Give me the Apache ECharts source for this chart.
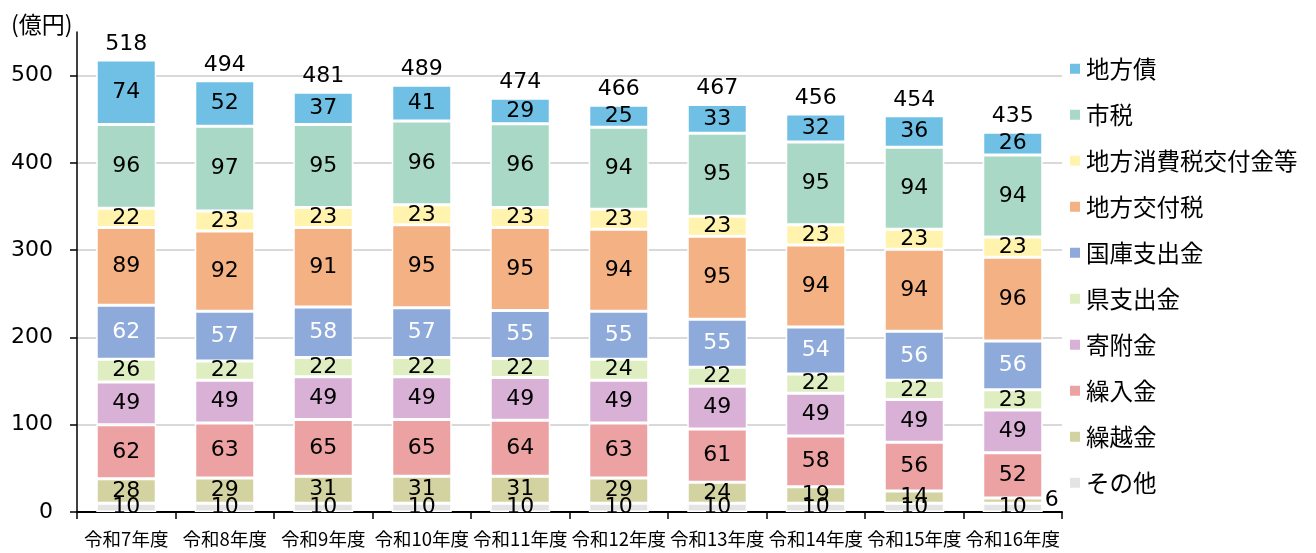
<!DOCTYPE html>
<html>
<head>
<meta charset="utf-8">
<script src="https://cdn.jsdelivr.net/npm/echarts@6/dist/echarts.min.js"></script>
<style>
  html, body { margin: 0; padding: 0; background: #fff; }
  #chart { width: 1316px; height: 553px; }
</style>
</head>
<body>
<div id="chart"></div>
<script>
const categories = ['令和7年度', '令和8年度', '令和9年度', '令和10年度', '令和11年度',
    '令和12年度', '令和13年度', '令和14年度', '令和15年度', '令和16年度'];

// bottom to top
const sonota = [10, 10, 10, 10, 10, 10, 10, 10, 10, 10];
const kurikoshi = [28, 29, 31, 31, 31, 29, 24, 19, 14, 6];
const kuriire = [62, 63, 65, 65, 64, 63, 61, 58, 56, 52];
const kifu = [49, 49, 49, 49, 49, 49, 49, 49, 49, 49];
const kenShishutsu = [26, 22, 22, 22, 22, 24, 22, 22, 22, 23];
const kokkoShishutsu = [62, 57, 58, 57, 55, 55, 55, 54, 56, 56];
const chihoKofuzei = [89, 92, 91, 95, 95, 94, 95, 94, 94, 96];
const shohizeiKofukin = [22, 23, 23, 23, 23, 23, 23, 23, 23, 23];
const shizei = [96, 97, 95, 96, 96, 94, 95, 95, 94, 94];
const chihosai = [74, 52, 37, 41, 29, 25, 33, 32, 36, 26];
const totals = [518, 494, 481, 489, 474, 466, 467, 456, 454, 435];

const yTicks = [0, 100, 200, 300, 400, 500];

const FONT = '"Noto Sans CJK JP", "Noto Sans", sans-serif';
const NUM_FONT = '"DejaVu Sans", "Noto Sans CJK JP", sans-serif';

const seriesDefs = [
    { name: 'その他', data: sonota, color: '#e4e4e4' },
    { name: '繰越金', data: kurikoshi, color: '#d3d3a2' },
    { name: '繰入金', data: kuriire, color: '#eca2a3' },
    { name: '寄附金', data: kifu, color: '#d9b0d6' },
    { name: '県支出金', data: kenShishutsu, color: '#dfeec0' },
    { name: '国庫支出金', data: kokkoShishutsu, color: '#8eaadb', labelColor: '#fff' },
    { name: '地方交付税', data: chihoKofuzei, color: '#f4b183' },
    { name: '地方消費税交付金等', data: shohizeiKofukin, color: '#fff3ad' },
    { name: '市税', data: shizei, color: '#a9d9c6' },
    { name: '地方債', data: chihosai, color: '#6fc0e4' }
];

const chart = echarts.init(document.getElementById('chart'));

const series = seriesDefs.map(function (s) {
    return {
        name: s.name,
        type: 'bar',
        stack: 'total',
        barWidth: 60,
        clip: false,
        itemStyle: { color: s.color, borderColor: '#fff', borderWidth: 1.5 },
        label: {
            show: true,
            position: 'inside',
            color: s.labelColor || '#000',
            fontSize: 22,
            fontFamily: NUM_FONT
        },
        data: s.data.map(function (v, i) {
            // the small carry-over value in the last year is labelled beside the bar
            if (s.name === '繰越金' && i === s.data.length - 1) {
                return { value: v, label: { position: 'right', offset: [-3, 0] } };
            }
            return v;
        })
    };
});

// totals written above the top segment
series.push({
    name: '合計',
    type: 'bar',
    stack: 'total',
    barWidth: 60,
    data: totals.map(function () { return 0; }),
    itemStyle: { color: 'transparent' },
    label: {
        show: true,
        position: 'top',
        distance: 5,
        color: '#000',
        fontSize: 22,
        fontFamily: NUM_FONT,
        formatter: function (p) { return totals[p.dataIndex]; }
    }
});

const options = {
    animation: false,
    title: {
        text: '(億円)',
        left: 6,
        top: 8,
        textStyle: { fontSize: 23, fontWeight: 'normal', color: '#000', fontFamily: FONT }
    },
    grid: { left: 77, right: 254, top: 32, bottom: 41 },
    legend: {
        orient: 'vertical',
        left: 1063,
        top: 52,
        itemWidth: 12,
        itemHeight: 12,
        itemGap: 22.5,
        icon: 'rect',
        textStyle: { fontSize: 23.5, color: '#000', fontFamily: FONT },
        data: seriesDefs.slice().reverse().map(function (s) { return s.name; })
    },
    xAxis: {
        type: 'category',
        data: categories,
        axisLine: { lineStyle: { color: '#000', width: 2 } },
        axisTick: { show: true, length: 7, lineStyle: { color: '#000', width: 1.5 } },
        axisLabel: { color: '#000', fontSize: 18.5, fontFamily: FONT, margin: 18, interval: 0 }
    },
    yAxis: {
        type: 'value',
        min: 0,
        max: 550,
        interval: 100,
        axisLine: { show: true, lineStyle: { color: '#000', width: 1.5 } },
        axisTick: { show: true, length: 7, customValues: yTicks, lineStyle: { color: '#000', width: 1.5 } },
        axisLabel: { color: '#000', fontSize: 22, fontFamily: NUM_FONT, margin: 24, customValues: yTicks },
        splitLine: {
            show: true,
            lineStyle: {
                color: ['#d9d9d9', '#d9d9d9', '#d9d9d9', '#d9d9d9', '#d9d9d9', '#d9d9d9', 'rgba(0,0,0,0)'],
                width: 2
            }
        }
    },
    series: series
};

chart.setOption(options);
</script>
</body>
</html>
